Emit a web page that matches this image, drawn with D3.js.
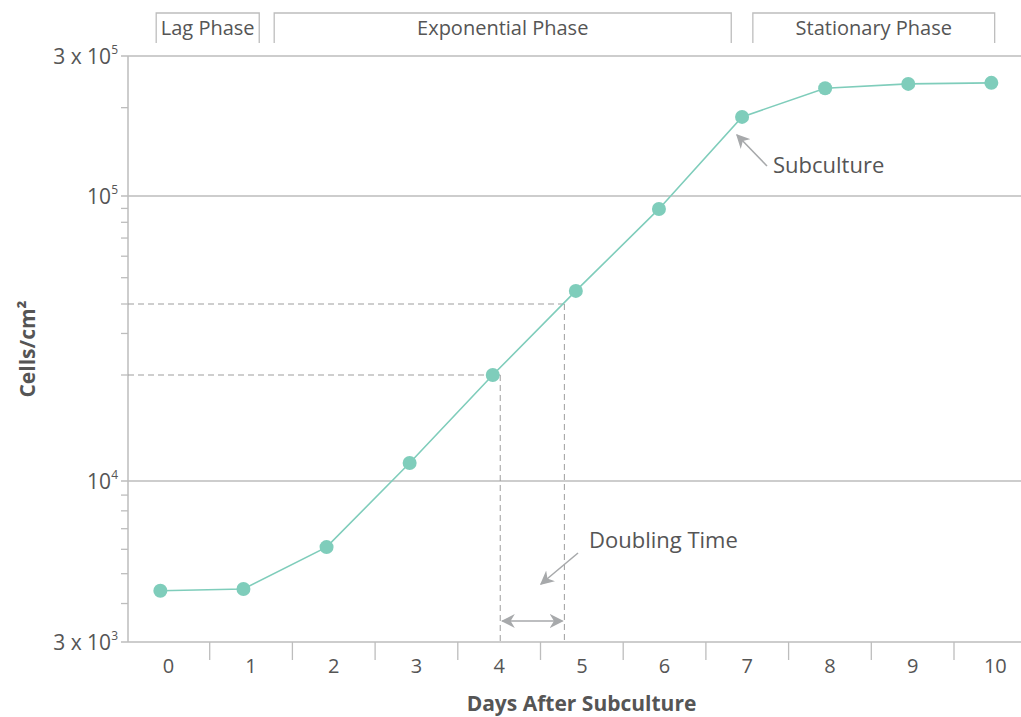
<!DOCTYPE html>
<html>
<head>
<meta charset="utf-8">
<script src="https://cdn.jsdelivr.net/npm/d3@7"></script>
<style>
  body { margin: 0; background: #fff; }
  svg text { font-family: 'Open Sans', 'Noto Sans', sans-serif; fill: #555; }
</style>
</head>
<body>
<svg id="chart" width="1021" height="717"></svg>
<script>
// data
const days = [0, 1, 2, 3, 4, 5, 6, 7, 8, 9, 10];
const cells = [4400, 4460, 6100, 11250, 20000, 44700, 89600, 186000, 233000, 241000, 243000];
const majorTicks = [3e3, 1e4, 1e5, 3e5];
const majorLabels = [['3 x 10', '3'], ['10', '4'], ['10', '5'], ['3 x 10', '5']];
const minorTicks = [4e3, 5e3, 6e3, 7e3, 8e3, 9e3, 2e4, 3e4, 4e4, 5e4, 6e4, 7e4, 8e4, 9e4, 2e5];
const phases = [
  { name: 'Lag Phase', from: -0.05, to: 1.19 },
  { name: 'Exponential Phase', from: 1.37, to: 6.87 },
  { name: 'Stationary Phase', from: 7.13, to: 10.04 },
];
const doubleFrom = 2e4;
const doubleTo = 4e4;

const svg = d3.select('#chart');
const width = +svg.attr('width');
const height = +svg.attr('height');

const padding = { top: 56, right: 0, bottom: 75, left: 128 };
const gridColor = '#bdbdbd';
const teal = '#7fcdbb';
const annColor = '#a7a9ab';

//SCALES
const xBand = d3
  .scaleBand()
  .domain(days)
  .range([padding.left - 1, padding.left - 1 + 11 * 82.7]);
const bw = xBand.bandwidth();
const xPt = d3
  .scaleLinear()
  .domain([0, 10])
  .range([xBand(0) + bw / 2 - 8, xBand(10) + bw / 2 - 4]);
const yScale = d3
  .scaleLog()
  .domain([3e3, 1e4, 2e4, 4e4, 1e5, 3e5])
  .range([642, 481, 375, 304, 196, 56]);

//GRID AND Y AXIS
const grid = svg.append('g');
grid
  .selectAll('line.major')
  .data(majorTicks)
  .join('line')
  .attr('x1', padding.left - 7)
  .attr('x2', width)
  .attr('y1', (d) => yScale(d))
  .attr('y2', (d) => yScale(d))
  .attr('stroke', gridColor)
  .attr('stroke-width', 1.3);

grid
  .selectAll('line.minor')
  .data(minorTicks)
  .join('line')
  .attr('x1', padding.left - 7)
  .attr('x2', padding.left)
  .attr('y1', (d) => yScale(d))
  .attr('y2', (d) => yScale(d))
  .attr('stroke', gridColor)
  .attr('stroke-width', 1.3);

grid
  .append('line')
  .attr('x1', padding.left)
  .attr('x2', padding.left)
  .attr('y1', yScale(3e5))
  .attr('y2', yScale(3e3))
  .attr('stroke', gridColor)
  .attr('stroke-width', 1.5);

const yLab = svg
  .selectAll('text.ylab')
  .data(majorTicks)
  .join('text')
  .attr('class', 'ylab')
  .attr('x', padding.left - 10)
  .attr('y', (d) => yScale(d) + 8)
  .style('text-anchor', 'end')
  .style('font-size', '21px');
yLab.append('tspan').text((d, i) => majorLabels[i][0]);
yLab
  .append('tspan')
  .attr('dy', -10)
  .style('font-size', '12px')
  .text((d, i) => majorLabels[i][1]);

//X AXIS
const xAxis = d3
  .axisBottom(xBand)
  .tickSize(0)
  .tickPadding(17);
const xg = svg
  .append('g')
  .attr('transform', `translate(0,${yScale(3e3)})`)
  .call(xAxis);
xg.select('.domain').remove();
xg.selectAll('text')
  .style('font-size', '20px')
  .style('font-family', "'Open Sans', sans-serif")
  .attr('fill', '#555');

svg
  .selectAll('line.sep')
  .data(days.slice(1))
  .join('line')
  .attr('x1', (d) => xBand(d))
  .attr('x2', (d) => xBand(d))
  .attr('y1', yScale(3e3))
  .attr('y2', yScale(3e3) + 18)
  .attr('stroke', gridColor)
  .attr('stroke-width', 1.3);

svg
  .append('text')
  .attr('x', (padding.left + width) / 2 + 7)
  .attr('y', height - 6)
  .style('text-anchor', 'middle')
  .style('font-size', '21px')
  .style('font-weight', 'bold')
  .attr('fill', '#444')
  .text('Days After Subculture');

svg
  .append('text')
  .attr('transform', 'rotate(-90)')
  .attr('x', -(yScale(3e5) + yScale(3e3)) / 2)
  .attr('y', 35)
  .style('text-anchor', 'middle')
  .style('font-size', '21px')
  .style('font-weight', 'bold')
  .attr('fill', '#444')
  .text('Cells/cm²');

//PHASE BRACKETS
const ph = svg.selectAll('g.phase').data(phases).join('g');
ph.append('path')
  .attr('d', (d) => `M${xPt(d.from)},43V13H${xPt(d.to)}V43`)
  .attr('fill', 'none')
  .attr('stroke', gridColor)
  .attr('stroke-width', 1.3);
ph.append('text')
  .attr('x', (d) => (xPt(d.from) + xPt(d.to)) / 2)
  .attr('y', 35)
  .style('text-anchor', 'middle')
  .style('font-size', '20px')
  .text((d) => d.name);

//DOUBLING TIME GUIDES
const logLine = (v) => {
  // find crossing of the growth line with value v (log interpolation)
  for (let i = 0; i < cells.length - 1; i++) {
    if (cells[i] <= v && cells[i + 1] >= v) {
      const t = (Math.log(v) - Math.log(cells[i])) / (Math.log(cells[i + 1]) - Math.log(cells[i]));
      return days[i] + t * (days[i + 1] - days[i]);
    }
  }
  return days[0];
};
const dFrom = Math.max(logLine(doubleFrom), 4.09);
const dTo = logLine(doubleTo);

const guides = svg.append('g').attr('stroke', '#9d9d9d').attr('stroke-width', 1).attr('stroke-dasharray', '6,4');
[[doubleFrom, dFrom], [doubleTo, dTo]].forEach(([v, d]) => {
  guides
    .append('line')
    .attr('x1', padding.left)
    .attr('x2', xPt(d))
    .attr('y1', yScale(v))
    .attr('y2', yScale(v));
  guides
    .append('line')
    .attr('x1', xPt(d))
    .attr('x2', xPt(d))
    .attr('y1', yScale(v))
    .attr('y2', yScale(3e3));
});

//ARROWS
svg
  .append('defs')
  .append('marker')
  .attr('id', 'head')
  .attr('viewBox', '0 0 10 10')
  .attr('refX', 9)
  .attr('refY', 5)
  .attr('markerWidth', 14)
  .attr('markerHeight', 14)
  .attr('markerUnits', 'userSpaceOnUse')
  .attr('orient', 'auto-start-reverse')
  .append('path')
  .attr('d', 'M0,0L10,5L0,10L3,5Z')
  .attr('fill', annColor);

svg
  .append('line')
  .attr('x1', xPt(dFrom) + 2)
  .attr('x2', xPt(dTo) - 2)
  .attr('y1', 621)
  .attr('y2', 621)
  .attr('stroke', annColor)
  .attr('stroke-width', 1.5)
  .attr('marker-start', 'url(#head)')
  .attr('marker-end', 'url(#head)');

svg
  .append('line')
  .attr('x1', 578)
  .attr('y1', 553)
  .attr('x2', 541)
  .attr('y2', 584)
  .attr('stroke', annColor)
  .attr('stroke-width', 1.5)
  .attr('marker-end', 'url(#head)');

svg
  .append('text')
  .attr('x', 589)
  .attr('y', 548)
  .style('font-size', '22px')
  .text('Doubling Time');

svg
  .append('line')
  .attr('x1', 767)
  .attr('y1', 166)
  .attr('x2', 737)
  .attr('y2', 135)
  .attr('stroke', annColor)
  .attr('stroke-width', 1.5)
  .attr('marker-end', 'url(#head)');

svg
  .append('text')
  .attr('x', 773)
  .attr('y', 173)
  .style('font-size', '22px')
  .text('Subculture');

//LINE AND POINTS
const path = d3
  .line()
  .x((d, i) => xPt(days[i]))
  .y((d) => yScale(d));

svg
  .append('path')
  .datum(cells)
  .attr('d', path)
  .attr('fill', 'none')
  .attr('stroke', teal)
  .attr('stroke-width', 1.6);

svg
  .selectAll('circle.pt')
  .data(cells)
  .join('circle')
  .attr('cx', (d, i) => xPt(days[i]))
  .attr('cy', (d) => yScale(d))
  .attr('r', 7)
  .attr('fill', teal);
</script>
</body>
</html>
